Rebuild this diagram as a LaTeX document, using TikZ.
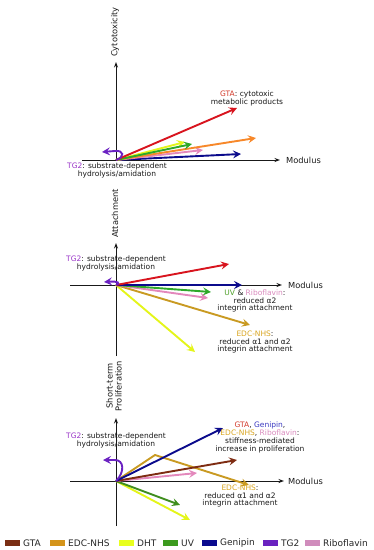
\documentclass[tikz,border=0pt]{standalone}
\usepackage{fontspec}
\setmainfont{DejaVu Sans}
\usetikzlibrary{arrows.meta}
\definecolor{cRed}{HTML}{D8141E}
\definecolor{cOrange}{HTML}{F7882A}
\definecolor{cYellow}{HTML}{E4F51A}
\definecolor{cGreen}{HTML}{2EA82A}
\definecolor{cDGreen}{HTML}{3F8E1E}
\definecolor{cPink}{HTML}{E388BC}
\definecolor{cNavy}{HTML}{0B0B8C}
\definecolor{cPurple}{HTML}{6B22C2}
\definecolor{cBrown}{HTML}{7E2C12}
\definecolor{cGold}{HTML}{C99A22}
\definecolor{tPurple}{HTML}{9A35C8}
\definecolor{tGold}{HTML}{D9A520}
\definecolor{tPink}{HTML}{D98ABD}
\definecolor{tGreen}{HTML}{4FA02A}
\definecolor{tRed}{HTML}{D23A2A}
\definecolor{tBlue}{HTML}{3A38C0}
\definecolor{lBrown}{HTML}{7A2E14}
\definecolor{lGold}{HTML}{D4941A}
\definecolor{lYellow}{HTML}{E8FF1E}
\definecolor{lGreen}{HTML}{3C9A1E}
\definecolor{lNavy}{HTML}{0A0A8E}
\definecolor{lPurple}{HTML}{6A22C0}
\definecolor{lPink}{HTML}{D08CBC}
\tikzset{
  axis/.style={draw=black!90, line width=0.9pt, -{Stealth[length=5.5pt,width=4pt]}},
  vec/.style={line width=1.9pt, -{Stealth[length=8pt,width=8pt,inset=3pt]}},
  axlabel/.style={font=\fontsize{8.3}{9.5}\selectfont, inner sep=0pt, text=black!90},
  note/.style={font=\fontsize{7.5}{7.9}\selectfont, align=center, inner sep=0pt, text=black!90},
  legtext/.style={font=\fontsize{9}{10}\selectfont, anchor=west, inner sep=0pt, text=black!85},
  swatch/.style={minimum width=15pt, minimum height=5.5pt, inner sep=0pt, anchor=west}
}
\begin{document}
\begin{tikzpicture}[x=1pt,y=-1pt]
\useasboundingbox (0,0) rectangle (374,550);
% ---------------- top panel ----------------
\coordinate (o1) at (116,160);
\coordinate (y1b) at (116,160);
\coordinate (y1t) at (116,62);
\coordinate (x1l) at (82,160);
\coordinate (x1r) at (280,160);
\draw[axis] (y1b) -- (y1t);
\draw[axis] (x1l) -- (x1r);
\node[axlabel, rotate=90, anchor=west] (lab1) at (115,57) {Cytotoxicity};
\node[axlabel, anchor=west] (mod1) at (286,160) {Modulus};
\coordinate (t1red) at (237,108);
\coordinate (t1or) at (256,138);
\coordinate (t1ye) at (185,142);
\coordinate (t1gr) at (192,144);
\coordinate (t1pk) at (203,150);
\coordinate (t1nv) at (241,154);
\coordinate (t1pu) at (102,152);
\draw[vec, cNavy] (o1) -- (t1nv);
\draw[vec, cPink] (o1) -- (t1pk);
\draw[vec, cOrange] (o1) -- (t1or);
\draw[vec, cYellow] (o1) -- (t1ye);
\draw[vec, cGreen] (o1) -- (t1gr);
\draw[vec, cRed] (o1) -- (t1red);
\draw[vec, cPurple] (o1) .. controls (125,157) and (124,150) .. (115,151) -- (t1pu);
\node[note] (n1a) at (247,98) {\textcolor{tRed}{GTA}: cytotoxic\\metabolic products};
\node[note] (n1b) at (117,170) {\textcolor{tPurple}{TG2}: substrate-dependent\\hydrolysis/amidation};
% ---------------- middle panel ----------------
\coordinate (o2) at (116,285);
\coordinate (y2b) at (116,356);
\coordinate (y2t) at (116,243);
\coordinate (x2l) at (70,285);
\coordinate (x2r) at (282,285);
\draw[axis] (y2b) -- (y2t);
\draw[axis] (x2l) -- (x2r);
\node[axlabel, rotate=90, anchor=west] (lab2) at (115,238) {Attachment};
\node[axlabel, anchor=west] (mod2) at (288,285) {Modulus};
\coordinate (t2red) at (229,264);
\coordinate (t2nv) at (242,285);
\coordinate (t2gr) at (211,292);
\coordinate (t2pk) at (208,298);
\coordinate (t2gd) at (250,325);
\coordinate (t2ye) at (195,352);
\coordinate (t2pu) at (104,282);
\draw[vec, cYellow] (o2) -- (t2ye);
\draw[vec, cGold] (o2) -- (t2gd);
\draw[vec, cPink] (o2) -- (t2pk);
\draw[vec, cGreen] (o2) -- (t2gr);
\draw[vec, cNavy] (o2) -- (t2nv);
\draw[vec, cRed] (o2) -- (t2red);
\draw[vec, cPurple] (o2) .. controls (121,283) and (118,281) .. (t2pu);
\node[note] (n2a) at (116,263.5) {\textcolor{tPurple}{TG2}: substrate-dependent\\hydrolysis/amidation};
\node[note] (n2b) at (255,301) {\textcolor{tGreen}{UV} \& \textcolor{tPink}{Riboflavin}:\\reduced α2\\integrin attachment};
\node[note] (n2c) at (255,342) {\textcolor{tGold}{EDC-NHS}:\\reduced α1 and α2\\integrin attachment};
% ---------------- bottom panel ----------------
\coordinate (o3) at (116,481);
\coordinate (y3b) at (116,526);
\coordinate (y3t) at (116,418);
\coordinate (x3l) at (70,481);
\coordinate (x3r) at (284,481);
\draw[axis] (y3b) -- (y3t);
\draw[axis] (x3l) -- (x3r);
\node[axlabel, rotate=90, anchor=south, align=center, font=\fontsize{8.3}{9}\selectfont] (lab3) at (122,386) {Short-term\\Proliferation};
\node[axlabel, anchor=west] (mod3) at (288,481) {Modulus};
\coordinate (t3nv) at (223,428);
\coordinate (t3br) at (237,460);
\coordinate (t3pk) at (197,473);
\coordinate (t3gk) at (155,455);
\coordinate (t3gd) at (249,485);
\coordinate (t3gr) at (180,505);
\coordinate (t3ye) at (190,520);
\coordinate (t3pu) at (103,460);
\draw[vec, cYellow] (o3) -- (t3ye);
\draw[vec, cDGreen] (o3) -- (t3gr);
\draw[vec, cPink] (o3) -- (t3pk);
\draw[vec, cGold] (o3) -- (t3gk) -- (t3gd);
\draw[vec, cBrown] (o3) -- (t3br);
\draw[vec, cNavy] (o3) -- (t3nv);
\draw[vec, cPurple] (o3) .. controls (125,472) and (124,460) .. (115,460) -- (t3pu);
\node[note] (n3a) at (116,440) {\textcolor{tPurple}{TG2}: substrate-dependent\\hydrolysis/amidation};
\node[note] (n3b) at (260,437.5) {\textcolor{tRed}{GTA}, \textcolor{tBlue}{Genipin},\\\textcolor{tGold}{EDC-NHS}, \textcolor{tPink}{Riboflavin}:\\stiffness-mediated\\increase in proliferation};
\node[note] (n3c) at (240,496) {\textcolor{tGold}{EDC-NHS}:\\reduced α1 and α2\\integrin attachment};
% ---------------- legend ----------------
\node[swatch, fill=lBrown] (s1) at (5,543) {};
\node[legtext] (g1) at (23,543) {GTA};
\node[swatch, fill=lGold] (s2) at (50,543) {};
\node[legtext] (g2) at (68,543) {EDC-NHS};
\node[swatch, fill=lYellow] (s3) at (119,543) {};
\node[legtext] (g3) at (137,543) {DHT};
\node[swatch, fill=lGreen] (s4) at (163,543) {};
\node[legtext] (g4) at (181,543) {UV};
\node[swatch, fill=lNavy] (s5) at (202,543) {};
\node[legtext] (g5) at (220,543) {Genipin};
\node[swatch, fill=lPurple] (s6) at (263,543) {};
\node[legtext] (g6) at (281,543) {TG2};
\node[swatch, fill=lPink] (s7) at (305,543) {};
\node[legtext] (g7) at (323,543) {Riboflavin};
\end{tikzpicture}
\end{document}
